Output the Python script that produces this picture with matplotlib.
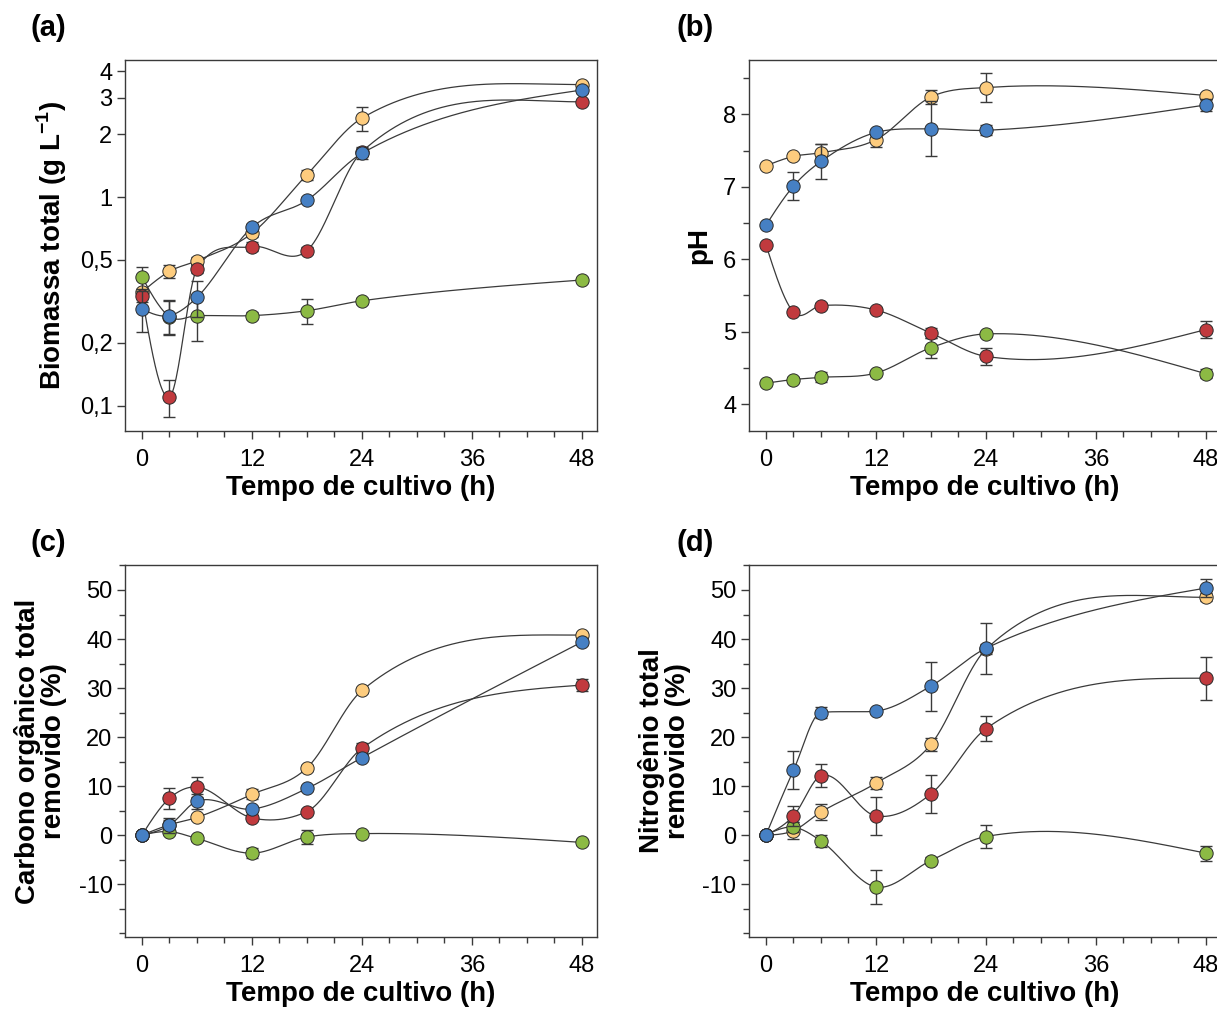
"""
Cultivo: biomassa, pH, COT e NT removidos ao longo de 48 h (4 condições)
"""

import matplotlib
matplotlib.use('Agg')
import matplotlib.pyplot as plt
import matplotlib.ticker as mticker
import numpy as np

plt.rcParams['font.family'] = ['Liberation Sans', 'DejaVu Sans']
plt.rcParams['mathtext.fontset'] = 'custom'
plt.rcParams['mathtext.rm'] = 'Liberation Sans'
plt.rcParams['mathtext.bf'] = 'Liberation Sans:bold'
plt.rcParams['axes.unicode_minus'] = False

# ----- Data -----
tempo = [0, 3, 6, 12, 18, 24, 48]
series = ['laranja', 'verde', 'vermelho', 'azul']   # draw order
cores = {'laranja': '#FDCC7E', 'verde': '#8CBA44', 'vermelho': '#C13A3E', 'azul': '#4680C4'}

# (a) Biomassa total (g/L)
bio_laranja = [0.35, 0.44, 0.495, 0.67, 1.28, 2.39, 3.46]
bio_azul = [0.29, 0.27, 0.33, 0.715, 0.965, 1.62, 3.26]
bio_vermelho = [0.335, 0.110, 0.452, 0.578, 0.553, 1.65, 2.86]
bio_verde = [0.413, 0.267, 0.27, 0.27, 0.285, 0.318, 0.40]
bio_err_laranja = [0.0, 0.03, 0.02, 0.03, 0.07, 0.32, 0.05]
bio_err_azul = [0.065, 0.05, 0.065, 0.03, 0.03, 0.1, 0.1]
bio_err_vermelho = [0.02, 0.022, 0.02, 0.03, 0.02, 0.08, 0.05]
bio_err_verde = [0.05, 0.05, 0.065, 0.01, 0.04, 0.01, 0.01]

# (b) pH
ph_laranja = [7.29, 7.42, 7.47, 7.65, 8.24, 8.37, 8.26]
ph_azul = [6.47, 7.01, 7.35, 7.75, 7.80, 7.78, 8.13]
ph_vermelho = [6.20, 5.27, 5.36, 5.30, 4.98, 4.66, 5.03]
ph_verde = [4.29, 4.34, 4.37, 4.43, 4.78, 4.97, 4.42]
ph_err_laranja = [0.0, 0.03, 0.12, 0.1, 0.1, 0.2, 0.03]
ph_err_azul = [0.0, 0.19, 0.24, 0.03, 0.38, 0.07, 0.08]
ph_err_vermelho = [0.0, 0.03, 0.03, 0.03, 0.07, 0.12, 0.12]
ph_err_verde = [0.0, 0.03, 0.07, 0.03, 0.14, 0.03, 0.06]

# (c) Carbono orgânico total removido (%)
cot_laranja = [0.0, 2.1, 3.6, 8.3, 13.7, 29.5, 40.8]
cot_azul = [0.0, 2.0, 6.9, 5.3, 9.5, 15.8, 39.4]
cot_vermelho = [0.0, 7.5, 9.8, 3.5, 4.8, 17.7, 30.6]
cot_verde = [0.0, 0.7, -0.7, -3.7, -0.4, 0.3, -1.5]
cot_err_laranja = [0.0, 1.0, 0.5, 1.0, 0.6, 0.5, 0.5]
cot_err_azul = [0.0, 1.5, 1.5, 0.5, 0.5, 0.5, 0.6]
cot_err_vermelho = [0.0, 2.2, 2.0, 0.5, 0.5, 1.0, 1.2]
cot_err_verde = [0.0, 0.5, 0.5, 1.0, 1.5, 0.5, 0.5]

# (d) Nitrogênio total removido (%)
nt_laranja = [0.0, 0.9, 4.7, 10.6, 18.5, 37.9, 48.5]
nt_azul = [0.0, 13.2, 25.0, 25.3, 30.4, 38.1, 50.4]
nt_vermelho = [0.0, 3.9, 12.1, 3.9, 8.4, 21.7, 32.0]
nt_verde = [0.0, 1.6, -1.2, -10.6, -5.2, -0.3, -3.7]
nt_err_laranja = [0.0, 1.7, 1.7, 1.2, 1.3, 1.0, 0.8]
nt_err_azul = [0.0, 3.9, 1.2, 0.5, 5.0, 5.2, 1.8]
nt_err_vermelho = [0.0, 2.0, 2.3, 3.8, 3.9, 2.5, 4.4]
nt_err_verde = [0.0, 1.0, 1.2, 3.5, 0.8, 2.3, 1.5]

paineis = [
    dict(val={'laranja': bio_laranja, 'azul': bio_azul, 'vermelho': bio_vermelho, 'verde': bio_verde},
         err={'laranja': bio_err_laranja, 'azul': bio_err_azul, 'vermelho': bio_err_vermelho, 'verde': bio_err_verde},
         ylabel=r'Biomassa total (g L$^{\mathbf{-1}}$)', log=True, ylim=(0.0755, 4.54),
         yticks=[0.1, 0.2, 0.5, 1, 2, 3, 4], yticklabels=['0,1', '0,2', '0,5', '1', '2', '3', '4'],
         letra='(a)'),
    dict(val={'laranja': ph_laranja, 'azul': ph_azul, 'vermelho': ph_vermelho, 'verde': ph_verde},
         err={'laranja': ph_err_laranja, 'azul': ph_err_azul, 'vermelho': ph_err_vermelho, 'verde': ph_err_verde},
         ylabel='pH', log=False, ylim=(3.63, 8.75), yticks=[4, 5, 6, 7, 8], minor=0.5, letra='(b)'),
    dict(val={'laranja': cot_laranja, 'azul': cot_azul, 'vermelho': cot_vermelho, 'verde': cot_verde},
         err={'laranja': cot_err_laranja, 'azul': cot_err_azul, 'vermelho': cot_err_vermelho, 'verde': cot_err_verde},
         ylabel='Carbono orgânico total\nremovido (%)', log=False, ylim=(-20.8, 55.1),
         yticks=[-10, 0, 10, 20, 30, 40, 50], minor=5, letra='(c)'),
    dict(val={'laranja': nt_laranja, 'azul': nt_azul, 'vermelho': nt_vermelho, 'verde': nt_verde},
         err={'laranja': nt_err_laranja, 'azul': nt_err_azul, 'vermelho': nt_err_vermelho, 'verde': nt_err_verde},
         ylabel='Nitrogênio total\nremovido (%)', log=False, ylim=(-20.8, 55.1),
         yticks=[-10, 0, 10, 20, 30, 40, 50], minor=5, letra='(d)'),
]


def suaviza(x, y, num=400):
    """Cubic Hermite curve: mean-secant tangents (lightly limited), natural ends."""
    x = np.asarray(x, float)
    y = np.asarray(y, float)
    n = len(x)
    h = np.diff(x)
    d = np.diff(y) / h
    m = np.zeros(n)
    m[1:-1] = 0.5 * (d[:-1] + d[1:])
    # keep tangents within 4x of the neighbouring secants
    for k in range(1, n - 1):
        for dk in (d[k - 1], d[k]):
            if dk * m[k] > 0 and abs(m[k]) > 4 * abs(dk):
                m[k] = 4 * dk
    m[0] = (3 * d[0] - m[1]) / 2
    m[-1] = (3 * d[-1] - m[-2]) / 2
    if m[0] * d[0] < 0:
        m[0] = 0.0
    if m[-1] * d[-1] < 0:
        m[-1] = 0.0

    xs = np.linspace(x[0], x[-1], num)
    k = np.clip(np.searchsorted(x, xs) - 1, 0, n - 2)
    hk = h[k]
    s = (xs - x[k]) / hk
    ys = ((2 * s**3 - 3 * s**2 + 1) * y[k] + (s**3 - 2 * s**2 + s) * hk * m[k]
          + (-2 * s**3 + 3 * s**2) * y[k + 1] + (s**3 - s**2) * hk * m[k + 1])
    return xs, ys


# ----- Plot -----
W, H = 1217, 1010
fig = plt.figure(figsize=(W / 100, H / 100), dpi=100)

# axes boxes in pixels: left, top, width, height
caixas = [(125, 60, 472, 371), (749, 60, 472, 371), (125, 565, 472, 372), (749, 565, 472, 372)]
letras_pos = [(30, 28), (676, 28), (30, 543), (676, 543)]

for p, (l, t, w, h), (lx, ly) in zip(paineis, caixas, letras_pos):
    ax = fig.add_axes([l / W, 1 - (t + h) / H, w / W, h / H])

    for s in series:
        y = np.asarray(p['val'][s])
        if p['log']:
            xs, ys = suaviza(tempo, np.log10(y))
            ys = 10**ys
        else:
            xs, ys = suaviza(tempo, y)
        ax.plot(xs, ys, color='#3a3a3a', lw=0.9, zorder=2)

    for i, s in enumerate(series):
        ax.errorbar(tempo, p['val'][s], yerr=p['err'][s], fmt='none',
                    ecolor='#3a3a3a', elinewidth=1.0, capsize=4, capthick=1.0, zorder=3 + 2 * i)
        ax.plot(tempo, p['val'][s], 'o', ms=9.6, mfc=cores[s], mec='#2a2a2a', mew=0.7,
                zorder=4 + 2 * i)

    if p['log']:
        ax.set_yscale('log')
        ax.yaxis.set_minor_locator(mticker.NullLocator())
    ax.set_ylim(*p['ylim'])
    ax.set_yticks(p['yticks'])
    if 'yticklabels' in p:
        ax.set_yticklabels(p['yticklabels'])
    if 'minor' in p:
        ax.yaxis.set_minor_locator(mticker.MultipleLocator(p['minor']))

    ax.set_xlim(-1.85, 49.64)
    ax.set_xticks([0, 12, 24, 36, 48])
    ax.xaxis.set_minor_locator(mticker.MultipleLocator(3))

    ax.tick_params(which='both', direction='out', color='#3a3a3a', width=1.0,
                   top=False, right=False)
    ax.tick_params(which='major', length=6, labelsize=17)
    ax.tick_params(axis='x', which='major', pad=7)
    ax.tick_params(axis='y', which='major', pad=3)
    ax.tick_params(which='minor', length=4)
    for sp in ax.spines.values():
        sp.set_color('#3a3a3a')
        sp.set_linewidth(1.0)

    ax.set_xlabel('Tempo de cultivo (h)', fontsize=20, fontweight='bold', labelpad=3)
    ax.set_ylabel(p['ylabel'], fontsize=20, fontweight='bold', labelpad=8, linespacing=1.0)

    fig.text(lx / W, 1 - ly / H, p['letra'], fontsize=21, fontweight='bold',
             ha='left', va='center')

plt.savefig('out.png', dpi=100)
